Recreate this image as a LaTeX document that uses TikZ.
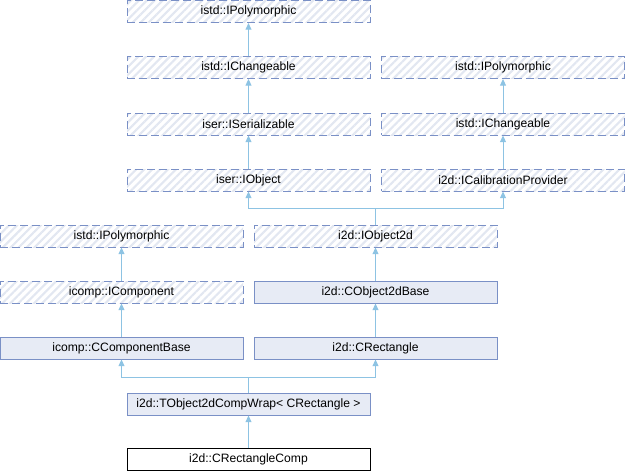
\documentclass[tikz,border=0pt]{standalone}
\usepackage{fontspec}
\setmainfont{Liberation Sans}
\usetikzlibrary{patterns.meta,arrows.meta}
\definecolor{bord}{HTML}{7A90C6}
\definecolor{edgec}{HTML}{8DC3E3}
\definecolor{fillc}{HTML}{E7EBF5}
\definecolor{hatch}{HTML}{E2E7F1}
\tikzset{
  box/.style={rectangle, minimum width=182.25pt, minimum height=16.5pt, inner sep=0pt,
    font=\fontsize{9.1pt}{10pt}\selectfont, line width=0.75pt},
  ibox/.style={box, draw=bord, dash pattern=on 6pt off 3pt,
    pattern={Lines[angle=45,distance=4.2pt,line width=1.6pt]}, pattern color=hatch},
  cbox/.style={box, draw=bord, fill=fillc},
  mbox/.style={box, draw=black, fill=white},
  ln/.style={draw=edgec, line width=0.75pt},
  arr/.style={ln, -{Triangle[width=4.5pt,length=5pt,fill=edgec]}},
}
\begin{document}
\begin{tikzpicture}[x=0.75pt,y=-0.75pt]
\useasboundingbox (0,0) rectangle (625,472);
% rows
\node[ibox] (p1) at (248.5,11) {istd::IPolymorphic};
\node[ibox] (c1) at (248.5,67.5) {istd::IChangeable};
\node[ibox] (p2) at (503,67.5) {istd::IPolymorphic};
\node[ibox] (ser) at (248.5,124) {iser::ISerializable};
\node[ibox] (c2) at (503,124) {istd::IChangeable};
\node[ibox] (iobj) at (248.5,180) {iser::IObject};
\node[ibox] (ical) at (503,180) {i2d::ICalibrationProvider};
\node[ibox] (p3) at (121.5,236) {istd::IPolymorphic};
\node[ibox] (io2d) at (375.5,236) {i2d::IObject2d};
\node[ibox] (icomp) at (121.5,292) {icomp::IComponent};
\node[cbox] (cob) at (375.5,292) {i2d::CObject2dBase};
\node[cbox] (ccb) at (121.5,348) {icomp::CComponentBase};
\node[cbox] (crect) at (375.5,348) {i2d::CRectangle};
\node[cbox] (wrap) at (248.5,404) {i2d::TObject2dCompWrap< CRectangle >};
\node[mbox] (comp) at (248.5,459.5) {i2d::CRectangleComp};
% edges
\draw[arr] (c1.north) -- (p1.south);
\draw[arr] (ser.north) -- (c1.south);
\draw[arr] (iobj.north) -- (ser.south);
\draw[arr] (c2.north) -- (p2.south);
\draw[arr] (ical.north) -- (c2.south);
\coordinate (j1) at (375.5,208);
\draw[ln] (io2d.north) -- (j1);
\draw[arr] (j1) -| (iobj.south);
\draw[arr] (j1) -| (ical.south);
\draw[arr] (icomp.north) -- (p3.south);
\draw[arr] (ccb.north) -- (icomp.south);
\draw[arr] (cob.north) -- (io2d.south);
\draw[arr] (crect.north) -- (cob.south);
\coordinate (j2) at (248.5,377);
\draw[ln] (wrap.north) -- (j2);
\draw[arr] (j2) -| (ccb.south);
\draw[arr] (j2) -| (crect.south);
\draw[arr] (comp.north) -- (wrap.south);
\end{tikzpicture}
\end{document}
